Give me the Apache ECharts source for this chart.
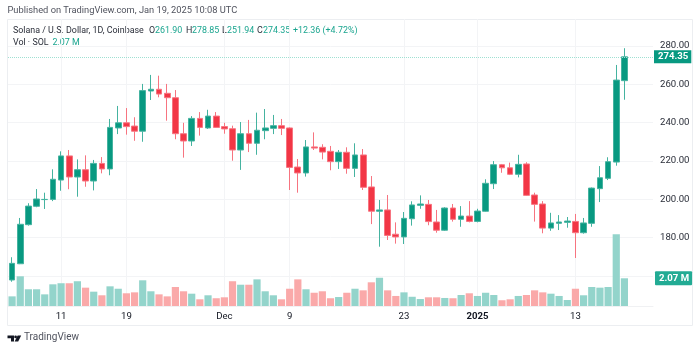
<!DOCTYPE html>
<html><head><meta charset="utf-8">
<style>html,body{margin:0;padding:0;background:#fff}#c{width:700px;height:351px}</style>
<script src="https://cdn.jsdelivr.net/npm/echarts@6/dist/echarts.min.js"></script>
</head><body><div id="c"></div>
<script>
const categories = ['5','6','7','8','9','10','11','12','13','14','15','16','17','18','19','20','21','22','23','24','25','26','27','28','29','30',
 'Dec','2','3','4','5','6','7','8','9','10','11','12','13','14','15','16','17','18','19','20','21','22','23','24','25','26','27','28','29','30','31',
 '2025','2','3','4','5','6','7','8','9','10','11','12','13','14','15','16','17','18','19','','',''];
const tickLabels = ['11','19','Dec','9','23','2025','13'];
const tickIndices = [6,14,26,34,48,57,69];
const opens = [157.8,166.3,186.7,196.3,199.8,199.9,210.0,222.6,211.6,215.4,209.5,218.7,215.8,237.2,239.9,238.2,235.5,256.5,257.4,255.3,253.0,234.2,230.4,242.2,237.2,243.4,237.9,236.8,225.7,234.2,229.2,235.8,237.0,238.4,237.2,216.8,213.7,227.3,227.1,225.0,219.6,224.5,216.1,223.1,206.4,193.7,194.4,181.7,180.3,189.8,196.8,197.3,188.1,183.8,195.4,189.5,191.2,188.4,193.7,208.1,218.0,216.4,213.0,218.4,202.2,197.5,184.9,187.4,187.9,188.4,182.5,187.4,205.5,210.9,219.4,261.90];
const closes = [166.5,186.9,196.4,200.1,199.9,210.4,222.6,211.6,215.4,209.5,218.7,215.8,237.5,239.9,237.9,235.5,256.7,257.4,254.9,253.0,234.2,230.4,242.2,237.5,243.4,237.5,236.7,225.7,234.2,229.2,236.0,237.2,238.4,237.0,216.6,213.7,227.3,226.7,224.6,219.6,224.5,216.1,223.1,206.2,193.7,194.4,181.1,180.3,190.0,197.0,197.5,188.3,183.8,195.4,189.5,191.2,188.4,193.8,208.3,218.0,216.4,213.0,218.2,202.0,197.3,184.9,187.6,188.1,188.6,182.5,187.6,205.8,211.2,219.6,262.2,274.35];
const lows = [156.9,166.1,186.2,195.8,194.9,199.0,204.4,205.2,201.3,206.5,204.6,213.5,212.5,234.0,233.7,230.5,230.0,251.8,253.2,241.0,231.3,221.7,227.8,233.2,236.7,237.2,234.2,220.1,215.3,224.6,223.2,231.3,234.0,233.5,204.8,203.4,211.8,225.7,220.8,215.1,215.8,213.3,211.6,204.8,187.0,175.2,178.7,176.8,176.6,186.2,195.0,186.4,182.5,183.4,188.3,185.6,187.9,187.9,193.5,205.3,213.8,212.6,211.4,201.7,188.3,182.2,183.5,183.9,185.1,169.3,182.0,185.6,198.5,210.0,217.5,251.94];
const highs = [169.7,190.2,197.9,205.3,203.4,215.6,225.0,225.7,220.8,222.9,220.5,222.0,241.9,248.7,247.6,242.8,260.2,264.9,264.5,260.2,257.0,239.9,243.4,245.5,246.7,245.5,239.9,238.4,240.3,241.4,245.2,247.1,244.0,241.9,237.5,221.0,230.9,234.9,228.7,227.8,225.7,227.1,229.2,226.2,212.1,199.6,202.2,187.9,193.3,198.9,202.0,199.6,194.4,195.8,197.5,196.4,199.0,195.0,210.4,219.9,218.4,219.1,223.2,219.3,203.4,199.0,192.9,191.7,190.7,192.3,190.2,206.1,217.3,221.9,270.1,278.85];
const volumes = [0.72,2.22,1.25,1.25,0.87,1.62,1.70,1.70,1.85,1.37,1.07,0.80,1.47,1.29,0.95,1.02,1.92,1.10,0.87,0.72,1.42,1.10,0.92,0.50,0.80,0.58,0.65,1.85,1.59,1.59,1.99,1.10,0.80,0.50,1.29,1.99,1.25,0.99,1.10,0.58,0.67,0.99,1.29,1.17,1.77,2.11,1.17,0.75,1.02,0.69,0.52,0.65,0.65,0.60,0.58,0.82,0.95,0.75,0.99,0.82,0.43,0.50,0.75,0.82,1.17,1.02,0.92,0.75,0.45,1.29,0.80,1.42,1.37,1.42,5.36,2.07];
const lastPrice = 274.35, lastVolume = 2.07;
const UP='#089981', DOWN='#F23645', WICKUP='#45b3a0', WICKDOWN='#f77480', VOLUP='#93D4CB', VOLDOWN='#FAA9A9', TXT='#131722', GRID='#f3f4f6';
const FONT='Roboto, "Open Sans", sans-serif';

const candleData = opens.map((o,i)=>[o,closes[i],lows[i],highs[i]]);
const volData = volumes.map((v,i)=>({value:v,itemStyle:{color:closes[i]>=opens[i]?VOLUP:VOLDOWN}}));
const isTick = idx=>tickIndices.includes(idx);

function txt(x,y,style,fill,size,weight){return {type:'text',left:x,top:y,silent:true,
  style:{text:style,fill:fill||TXT,font:(weight||'normal')+' '+(size||8.6)+'px '+FONT}};}
const legend=[
 txt(7.5,6.5,'Published on TradingView.com, Jan 19, 2025 10:08 UTC','#50535e',9.3),
 txt(13,26,'Solana / U.S. Dollar, 1D, Coinbase','#2a2e39',8.9),
 txt(149,26,'O','#2a2e39',8.9),txt(155,26,'261.90','#1aa58f',8.9),
 txt(186,26,'H','#2a2e39',8.9),txt(192,26,'278.85','#1aa58f',8.9),
 txt(222,26,'L','#2a2e39',8.9),txt(227,26,'251.94','#1aa58f',8.9),
 txt(257,26,'C','#2a2e39',8.9),txt(263,26,'274.35','#1aa58f',8.9),
 txt(293,26,'+12.36 (+4.72%)','#1aa58f',8.9),
 txt(13,38,'Vol · SOL','#2a2e39',8.9),txt(52.5,38,'2.07 M','#1aa58f',8.9),
 txt(24,332.5,'TradingView','#50535e',10),
 {type:'rect',silent:true,z:-1,shape:{x:7.5,y:19.5,width:685,height:306},style:{fill:'none',stroke:'#eceef1',lineWidth:1}},
 {type:'polygon',silent:true,shape:{points:[[7.5,335.5],[14,335.5],[14,341.5],[11,341.5],[11,338.2],[7.5,338.2]]},style:{fill:TXT}},
 {type:'circle',silent:true,shape:{cx:15.6,cy:336.9,r:1.4},style:{fill:TXT}},
 {type:'polygon',silent:true,shape:{points:[[17.6,335.5],[21.2,335.5],[18.2,341.5],[14.6,341.5]]},style:{fill:TXT}}
];

const chart=echarts.init(document.getElementById('c'),null,{renderer:'canvas'});
chart.setOption({
 animation:false,
 backgroundColor:'#fff',
 graphic:legend,
 grid:[
  {left:8,width:645,top:19,height:295.1,containLabel:false},
  {left:8,width:645,top:19,height:287,containLabel:false}
 ],
 xAxis:[
  {type:'category',gridIndex:0,data:categories,show:false},
  {type:'category',gridIndex:1,data:categories,
   axisLine:{show:true,lineStyle:{color:'#f0f1f3'}},axisTick:{show:false},
   splitLine:{show:true,alignWithLabel:true,interval:(idx)=>isTick(idx),lineStyle:{color:GRID,width:1}},
   axisLabel:{interval:(idx)=>isTick(idx),margin:6,fontSize:9.6,fontFamily:FONT,color:TXT,
    formatter:(v,idx)=>{const k=tickIndices.indexOf(idx);if(k<0)return '';const s=tickLabels[k];return s==='2025'?'{b|'+s+'}':s;},
    rich:{b:{fontWeight:'bold',fontSize:9.6,fontFamily:FONT,color:TXT}}}}
 ],
 yAxis:[
  {type:'value',gridIndex:0,position:'right',min:140,max:294.1,interval:20,
   axisLine:{show:false},axisTick:{show:false},
   splitLine:{show:true,showMinLine:false,showMaxLine:false,lineStyle:{color:GRID,width:1}},
   axisLabel:{margin:7,fontSize:9.6,fontFamily:FONT,color:'#2a2e39',padding:[2,0,0,0],
    formatter:v=>(v>=180&&v<=280)?v.toFixed(2):''}},
  {type:'value',gridIndex:1,min:0,max:21.44,show:false,splitLine:{show:false}}
 ],
 series:[
  {type:'bar',name:'Vol',xAxisIndex:1,yAxisIndex:1,data:volData,barWidth:7.2,z:1,silent:true,
   markLine:{silent:true,symbol:'none',lineStyle:{color:'rgba(0,0,0,0)'},data:[{yAxis:lastVolume}],
    label:{position:'end',distance:2,formatter:'2.07 M',color:'#fff',backgroundColor:'#22AB94',
     fontSize:9.6,fontWeight:'bold',fontFamily:FONT,padding:[3,3,1,4],borderRadius:1}}},
  {type:'candlestick',name:'SOL',xAxisIndex:0,yAxisIndex:0,data:candleData,barWidth:6.2,z:3,silent:true,
   itemStyle:{color:UP,color0:DOWN,borderColor:WICKUP,borderColor0:WICKDOWN,borderWidth:1},
   markLine:{silent:true,symbol:'none',precision:2,
    lineStyle:{color:'#9fe0d2',type:'dotted',width:1},data:[{yAxis:lastPrice}],
    label:{position:'end',distance:1,formatter:'274.35',color:'#fff',backgroundColor:UP,
     fontSize:9.6,fontWeight:'bold',fontFamily:FONT,padding:[2,3,1,4]}}}
 ]
});
</script></body></html>
